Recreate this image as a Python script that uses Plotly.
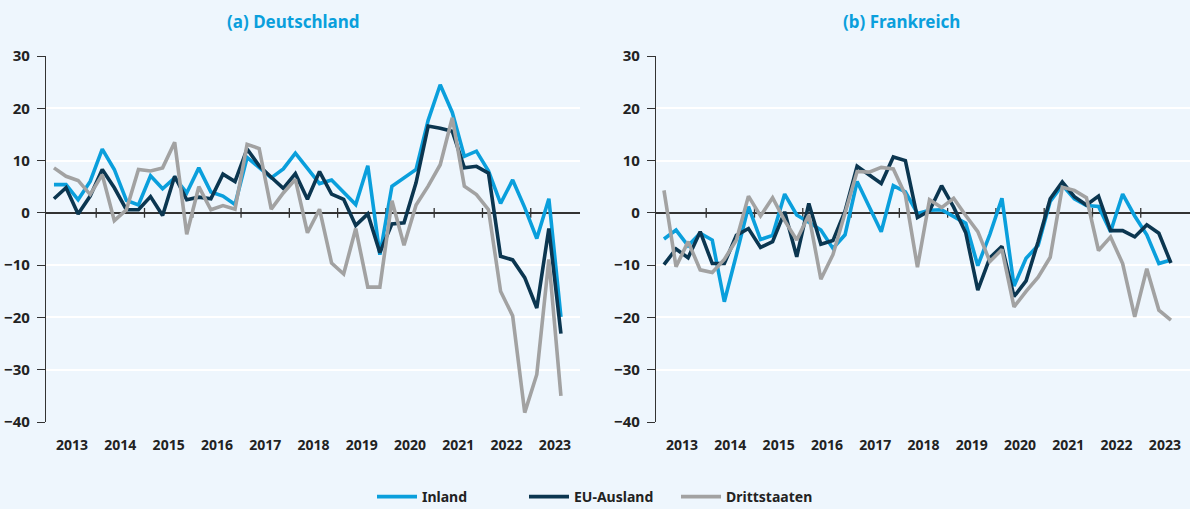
import plotly.graph_objects as go

# ---------------- data (quarterly, 2013Q1 .. 2023Q3) ----------------
years = list(range(2013, 2024))
quarters = [f"{y}-Q{q}" for y in years for q in range(1, 5)][:43]

de_inland = [5.4, 5.4, 2.5, 6.0, 12.2, 8.3, 2.4, 1.5, 7.1, 4.6, 6.7, 3.8, 8.6, 4.0, 3.2, 1.6,
             10.6, 8.7, 6.7, 8.4, 11.4, 8.5, 5.6, 6.3, 3.9, 1.6, 9.0, -8.0, 5.1, 6.7, 8.3, 17.7,
             24.5, 19.2, 10.8, 11.8, 8.0, 1.8, 6.3, 1.0, -4.9, 2.7, -19.9]
de_eu = [2.7, 4.8, -0.2, 3.2, 8.3, 4.8, 0.6, 0.6, 3.1, -0.5, 7.0, 2.5, 3.0, 2.7, 7.4, 6.0,
         12.2, 9.0, 6.8, 4.7, 7.5, 2.6, 7.9, 3.6, 2.6, -2.4, -0.2, -7.6, -2.1, -1.9, 5.8, 16.6,
         16.2, 15.6, 8.6, 8.9, 7.6, -8.3, -9.0, -12.4, -18.2, -3.0, -23.1]
de_dritt = [8.6, 7.0, 6.2, 3.5, 7.3, -1.5, 0.6, 8.3, 8.0, 8.6, 13.5, -4.1, 5.0, 0.6, 1.4, 0.7,
            13.1, 12.3, 0.7, 3.8, 6.4, -3.8, 0.7, -9.6, -11.7, -3.0, -14.2, -14.2, 2.3, -6.2, 1.5, 5.1,
            9.2, 18.2, 5.1, 3.5, 0.6, -15.0, -19.7, -38.2, -30.9, -8.9, -35.0]

fr_inland = [-5.0, -3.3, -6.3, -3.9, -5.2, -17.0, -8.0, 1.2, -5.1, -4.3, 3.6, -0.4, -1.8, -3.3, -6.8, -4.2,
             6.0, 1.1, -3.6, 5.2, 4.0, -0.1, 0.5, 0.6, -0.8, -2.0, -10.1, -4.1, 2.8, -14.0, -8.7, -6.2,
             2.2, 5.3, 2.7, 1.4, 1.2, -3.6, 3.6, -0.6, -4.2, -9.7, -9.0]
fr_eu = [-9.9, -6.9, -8.6, -3.6, -9.7, -9.7, -4.3, -3.0, -6.6, -5.5, 0.2, -8.4, 1.8, -6.0, -5.3, 0.3,
         8.9, 7.3, 5.6, 10.7, 10.0, -0.9, 0.4, 5.2, 1.1, -3.8, -14.8, -8.6, -6.4, -16.0, -13.0, -5.5,
         2.7, 5.9, 3.1, 1.5, 3.2, -3.4, -3.4, -4.6, -2.3, -3.9, -9.6]
fr_dritt = [4.3, -10.3, -5.5, -10.9, -11.4, -8.9, -5.2, 3.2, -0.6, 2.9, -1.5, -5.2, -0.4, -12.7, -8.0, -0.3,
            7.9, 7.8, 8.7, 8.4, 3.4, -10.4, 2.5, 1.0, 2.8, -0.5, -3.6, -9.3, -7.0, -18.0, -15.0, -12.3,
            -8.5, 4.9, 4.3, 2.9, -7.2, -4.6, -9.7, -19.9, -10.7, -18.6, -20.5]

series_names = ["Inland", "EU-Ausland", "Drittstaaten"]
series_colors = ["#0A9FDC", "#0B3650", "#A2A2A2"]
panel_titles = ["(a) Deutschland", "(b) Frankreich"]
y_ticks = [30, 20, 10, 0, -10, -20, -30, -40]

# ---------------- helpers ----------------
def qpos(label):
    y, q = label.split("-Q")
    return int(y) + (int(q) - 1) / 4 + 0.125

x = [qpos(q) for q in quarters]
boundaries = years[1:]          # year boundaries marked on the zero line
label_pos = [y + 0.5 for y in years]

BG = "#EEF6FD"
TXT = "#222222"
AX = "#333333"
FONT = "Noto Sans"

W, H = 1190, 509
ML, MR, MT, MB = 46, 0, 56, 87
pw = W - ML - MR
left_dom = [0, (580 - ML) / pw]
right_dom = [(656 - ML) / pw, 1]

fig = go.Figure()

panels = [
    ("x", "y", [de_inland, de_eu, de_dritt]),
    ("x2", "y2", [fr_inland, fr_eu, fr_dritt]),
]

for p, (xa, ya, data) in enumerate(panels):
    # boundary tick marks on zero line
    fig.add_trace(go.Scatter(
        x=boundaries, y=[0] * len(boundaries), xaxis=xa, yaxis=ya,
        mode="markers", showlegend=False, hoverinfo="skip",
        marker=dict(symbol="line-ns", size=7, line=dict(width=1.3, color=AX), color=AX),
    ))
    for name, col, vals in zip(series_names, series_colors, data):
        fig.add_trace(go.Scatter(
            x=x, y=vals, xaxis=xa, yaxis=ya, mode="lines", name=name,
            line=dict(color=col, width=3.6), showlegend=(p == 0),
        ))

xcommon = dict(
    range=[2012.96, 2024.02], showgrid=False, zeroline=False, showline=False,
    tickmode="array", tickvals=label_pos, ticktext=[str(y) for y in years],
    ticks="outside", ticklen=10, tickcolor="rgba(0,0,0,0)",
    tickfont=dict(family=FONT, size=14, color=TXT, weight="bold"), fixedrange=True,
)
ycommon = dict(
    range=[-40, 30], tickmode="array", tickvals=y_ticks,
    showgrid=True, gridcolor="#FFFFFF", gridwidth=1.5,
    zeroline=True, zerolinecolor=AX, zerolinewidth=1.5,
    showline=True, linecolor=AX, linewidth=1.3,
    ticks="outside", ticklen=8, tickcolor=AX, tickwidth=1.3, ticklabelstandoff=4,
    tickfont=dict(family=FONT, size=15, color=TXT, weight="bold"), fixedrange=True,
)

fig.update_layout(
    width=W, height=H,
    margin=dict(l=ML, r=MR, t=MT, b=MB, autoexpand=False),
    paper_bgcolor=BG, plot_bgcolor=BG,
    font=dict(family=FONT, color=TXT),
    xaxis=dict(domain=left_dom, anchor="y", **xcommon),
    xaxis2=dict(domain=right_dom, anchor="y2", **xcommon),
    yaxis=dict(domain=[0, 1], anchor="x", **ycommon),
    yaxis2=dict(domain=[0, 1], anchor="x2", **ycommon),
    legend=dict(
        orientation="h", x=(600 - ML) / pw, xanchor="center",
        y=-0.205, yanchor="middle", bgcolor="rgba(0,0,0,0)",
        font=dict(family=FONT, size=14, color=TXT, weight="bold"),
        itemwidth=40, entrywidth=97, entrywidthmode="pixels",
    ),
    showlegend=True,
)

plot_h = H - MT - MB
for title, px in zip(panel_titles, [293, 901]):
    fig.add_annotation(
        text=title, xref="paper", yref="paper",
        x=(px - ML) / pw, y=1 + (MT - 22) / plot_h,
        xanchor="center", yanchor="middle", showarrow=False,
        font=dict(family=FONT, size=17, color="#0A9FDC", weight="bold"),
    )

fig.write_html(
    "out.html",
    config={"displayModeBar": False},
    post_script="document.body.style.margin='0';document.body.style.padding='0';",
)
